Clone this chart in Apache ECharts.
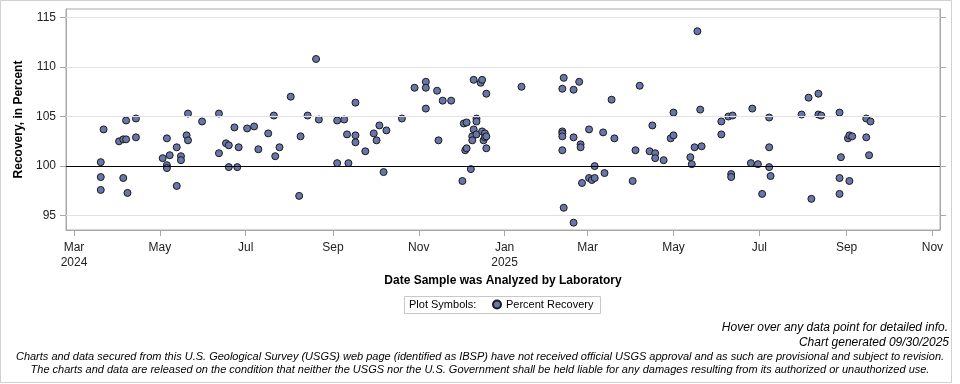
<!DOCTYPE html>
<html>
<head>
<meta charset="utf-8">
<title>Percent Recovery</title>
<script src="https://cdn.jsdelivr.net/npm/echarts@6/dist/echarts.min.js"></script>
<style>
  html, body { margin: 0; padding: 0; background: #fff; }
  #chart { width: 960px; height: 384px; }
</style>
</head>
<body>
<div id="chart"></div>
<script>
// sample dates and percent recovery
const sampleDates = [
  '2024-03-20','2024-03-20','2024-03-20','2024-03-22','2024-04-02','2024-04-05','2024-04-05','2024-04-07',
  '2024-04-07','2024-04-08','2024-04-14','2024-04-14','2024-05-03','2024-05-06','2024-05-06','2024-05-06',
  '2024-05-08','2024-05-13','2024-05-13','2024-05-16','2024-05-16','2024-05-20','2024-05-21','2024-05-21',
  '2024-05-31','2024-06-12','2024-06-12','2024-06-17','2024-06-19','2024-06-19','2024-06-23','2024-06-25',
  '2024-06-26','2024-07-02','2024-07-07','2024-07-10','2024-07-17','2024-07-21','2024-07-22','2024-07-25',
  '2024-08-02','2024-08-08','2024-08-09','2024-08-14','2024-08-20','2024-08-22','2024-09-04','2024-09-04',
  '2024-09-09','2024-09-11','2024-09-12','2024-09-17','2024-09-17','2024-09-17','2024-09-24','2024-09-30',
  '2024-10-02','2024-10-04','2024-10-07','2024-10-09','2024-10-20','2024-10-29','2024-11-06','2024-11-06',
  '2024-11-06','2024-11-14','2024-11-15','2024-11-18','2024-11-24','2024-12-02','2024-12-03','2024-12-04',
  '2024-12-05','2024-12-05','2024-12-08','2024-12-09','2024-12-09','2024-12-10','2024-12-10','2024-12-12',
  '2024-12-12','2024-12-12','2024-12-15','2024-12-16','2024-12-16','2024-12-17','2024-12-18','2024-12-18',
  '2024-12-19','2024-12-19','2024-12-19','2025-01-13','2025-02-11','2025-02-11','2025-02-11','2025-02-11',
  '2025-02-11','2025-02-12','2025-02-12','2025-02-19','2025-02-19','2025-02-19','2025-02-23','2025-02-24',
  '2025-02-24','2025-02-25','2025-03-02','2025-03-02','2025-03-04','2025-03-06','2025-03-06','2025-03-12',
  '2025-03-13','2025-03-18','2025-03-20','2025-04-02','2025-04-04','2025-04-07','2025-04-14','2025-04-16',
  '2025-04-18','2025-04-18','2025-04-24','2025-04-29','2025-05-01','2025-05-01','2025-05-13','2025-05-14',
  '2025-05-16','2025-05-18','2025-05-20','2025-05-21','2025-06-04','2025-06-04','2025-06-09','2025-06-11',
  '2025-06-11','2025-06-12','2025-06-25','2025-06-26','2025-06-30','2025-07-03','2025-07-08','2025-07-08',
  '2025-07-08','2025-07-09','2025-07-31','2025-08-05','2025-08-07','2025-08-12','2025-08-12','2025-08-14',
  '2025-08-27','2025-08-27','2025-08-27','2025-08-28','2025-09-02','2025-09-03','2025-09-03','2025-09-05',
  '2025-09-15','2025-09-15','2025-09-17','2025-09-18'
];
const recoveryValues = [
  100.4, 98.9, 97.6, 103.7, 102.5, 102.7, 98.8, 102.7,
  104.6, 97.3, 104.8, 102.9, 100.8, 102.8, 100.1, 99.8,
  101.1, 101.9, 98.0, 101.0, 100.6, 103.1, 105.3, 102.6,
  104.5, 105.3, 101.3, 102.3, 102.1, 99.9, 103.9, 99.9,
  101.9, 103.8, 104.0, 101.7, 103.3, 105.1, 101.0, 101.9,
  107.0, 97.0, 103.0, 105.1, 110.8, 104.7, 104.6, 100.3,
  104.7, 103.2, 100.3, 106.4, 103.1, 102.4, 101.5, 103.3,
  102.6, 104.1, 99.4, 103.6, 104.8, 107.9, 108.5, 107.9,
  105.8, 107.6, 102.6, 106.6, 106.6, 98.5, 104.3, 101.6,
  104.4, 101.8, 99.7, 103.0, 102.6, 108.7, 103.7, 104.8,
  104.5, 103.2, 108.4, 108.7, 103.5, 102.6, 103.3, 102.9,
  107.3, 103.0, 101.8, 108.0, 107.8, 103.5, 103.3, 103.0,
  101.6, 108.9, 95.8, 107.7, 102.9, 94.3, 108.5, 102.2,
  101.9, 98.3, 103.7, 98.8, 98.6, 100.0, 98.8, 103.4,
  99.3, 106.7, 102.8, 98.5, 101.6, 108.1, 101.5, 104.1,
  101.3, 100.8, 100.6, 102.8, 105.4, 103.1, 100.9, 100.2,
  101.9, 113.6, 105.7, 102.0, 103.2, 104.5, 105.0, 99.2,
  98.9, 105.1, 100.3, 105.8, 100.2, 97.2, 104.9, 101.9,
  99.9, 99.0, 105.2, 106.9, 96.7, 107.3, 105.2, 105.1,
  105.4, 98.8, 97.2, 100.9, 102.8, 103.1, 98.5, 103.0,
  102.9, 104.8, 101.1, 104.5
];

// axis ticks
const yTicks = [95, 100, 105, 110, 115];
const xTickDates = ['2024-03-01','2024-05-01','2024-07-01','2024-09-01','2024-11-01','2025-01-01',
  '2025-03-01','2025-05-01','2025-07-01','2025-09-01','2025-11-01'];
const xTickLabels = ['Mar\n2024','May','Jul','Sep','Nov','Jan\n2025','Mar','May','Jul','Sep','Nov'];

const FONT = '"Liberation Sans", Arial, sans-serif';
const DAY = 86400000;
const toTime = s => +echarts.number.parseDate(s);
const xTickTimes = xTickDates.map(toTime);
const xMin = xTickTimes[0] - 5.7 * DAY;
const xMax = xTickTimes[xTickTimes.length - 1] + 5.4 * DAY;

const points = sampleDates.map((d, i) => [toTime(d), recoveryValues[i]]);

const chart = echarts.init(document.getElementById('chart'), null, { renderer: 'canvas' });

const option = {
  animation: false,
  textStyle: { fontFamily: FONT },
  grid: {
    left: 66, right: 20, top: 9, bottom: 154,
    outerBoundsMode: 'none',
    show: true, borderColor: '#a8a8a8', borderWidth: 1
  },
  xAxis: {
    // time values as plain numbers so the custom tick list can be used
    type: 'value',
    min: xMin,
    max: xMax,
    name: 'Date Sample was Analyzed by Laboratory',
    nameLocation: 'middle',
    nameGap: 45,
    nameMoveOverlap: false,
    nameTextStyle: { fontFamily: FONT, fontSize: 12, fontWeight: 'bold', color: '#000' },
    axisLine: { lineStyle: { color: '#a8a8a8' } },
    axisTick: { customValues: xTickTimes, length: 6, lineStyle: { color: '#a8a8a8' } },
    axisLabel: {
      customValues: xTickTimes,
      margin: 10,
      fontSize: 12,
      lineHeight: 15,
      color: '#222',
      fontFamily: FONT,
      formatter: v => {
        let best = 0;
        xTickTimes.forEach((t, i) => { if (Math.abs(t - v) < Math.abs(xTickTimes[best] - v)) best = i; });
        return xTickLabels[best];
      }
    },
    splitLine: { show: false }
  },
  yAxis: [{
    type: 'value',
    min: 93.56,
    max: 115.84,
    name: 'Recovery, in Percent',
    nameLocation: 'middle',
    nameGap: 41,
    nameMoveOverlap: false,
    nameTextStyle: { fontFamily: FONT, fontSize: 12, fontWeight: 'bold', color: '#000' },
    axisLine: { show: true, lineStyle: { color: '#a8a8a8' } },
    axisTick: { show: true, customValues: yTicks, length: 6, lineStyle: { color: '#a8a8a8' } },
    axisLabel: { customValues: yTicks, margin: 10, fontSize: 12, color: '#222', fontFamily: FONT },
    splitLine: { show: false }
  }, {
    type: 'value',
    position: 'right',
    min: 93.56,
    max: 115.84,
    axisLine: { show: true, lineStyle: { color: '#a8a8a8' } },
    axisTick: { show: true, customValues: yTicks, length: 6, lineStyle: { color: '#a8a8a8' } },
    axisLabel: { show: false },
    splitLine: { show: false }
  }],
  legend: {
    data: ['Percent Recovery'],
    left: 492,
    top: 299,
    padding: 0,
    icon: 'circle',
    itemWidth: 8,
    itemHeight: 8,
    itemGap: 4,
    textStyle: { fontFamily: FONT, fontSize: 11, color: '#000' }
  },
  series: [{
    // reference and grid lines
    name: 'lines',
    type: 'line',
    data: [],
    z: 1,
    silent: true,
    markLine: {
      silent: true,
      symbol: 'none',
      label: { show: false },
      animation: false,
      data: yTicks.map(v => ({
        yAxis: v,
        lineStyle: v === 100
          ? { color: '#000', width: 1, type: 'solid' }
          : { color: '#e2e2e2', width: 1, type: 'solid' }
      }))
    }
  }, {
    name: 'Percent Recovery',
    type: 'scatter',
    z: 3,
    symbol: 'circle',
    symbolSize: 7,
    itemStyle: { color: '#6876a9', borderColor: '#1a1a1a', borderWidth: 1, opacity: 1 },
    data: points
  }],
  graphic: [
    {
      type: 'rect', silent: true,
      shape: { x: 0.5, y: 0.5, width: 951, height: 382 },
      style: { fill: null, stroke: '#d0d0d0', lineWidth: 1 }
    },
    {
      type: 'rect', silent: true,
      shape: { x: 404.5, y: 296.5, width: 196, height: 17 },
      style: { fill: null, stroke: '#c8c8c8', lineWidth: 1 }
    },
    {
      type: 'text', left: 409, top: 299,
      style: { text: 'Plot Symbols:', font: '11px ' + FONT, fill: '#000' }
    },
    {
      type: 'text', right: 12, top: 322,
      style: { text: 'Hover over any data point for detailed info.', font: 'italic 12px ' + FONT, fill: '#000', align: 'right' }
    },
    {
      type: 'text', right: 11, top: 337,
      style: { text: 'Chart generated 09/30/2025', font: 'italic 12px ' + FONT, fill: '#000', align: 'right' }
    },
    {
      type: 'text', left: 'center', top: 351,
      style: {
        text: 'Charts and data secured from this U.S. Geological Survey (USGS) web page (identified as IBSP) have not received official USGS approval and as such are provisional and subject to revision.',
        font: 'italic 11px ' + FONT, fill: '#000', align: 'center'
      }
    },
    {
      type: 'text', left: 'center', top: 364,
      style: {
        text: 'The charts and data are released on the condition that neither the USGS nor the U.S. Government shall be held liable for any damages resulting from its authorized or unauthorized use.',
        font: 'italic 11px ' + FONT, fill: '#000', align: 'center'
      }
    }
  ]
};

chart.setOption(option);
</script>
</body>
</html>
